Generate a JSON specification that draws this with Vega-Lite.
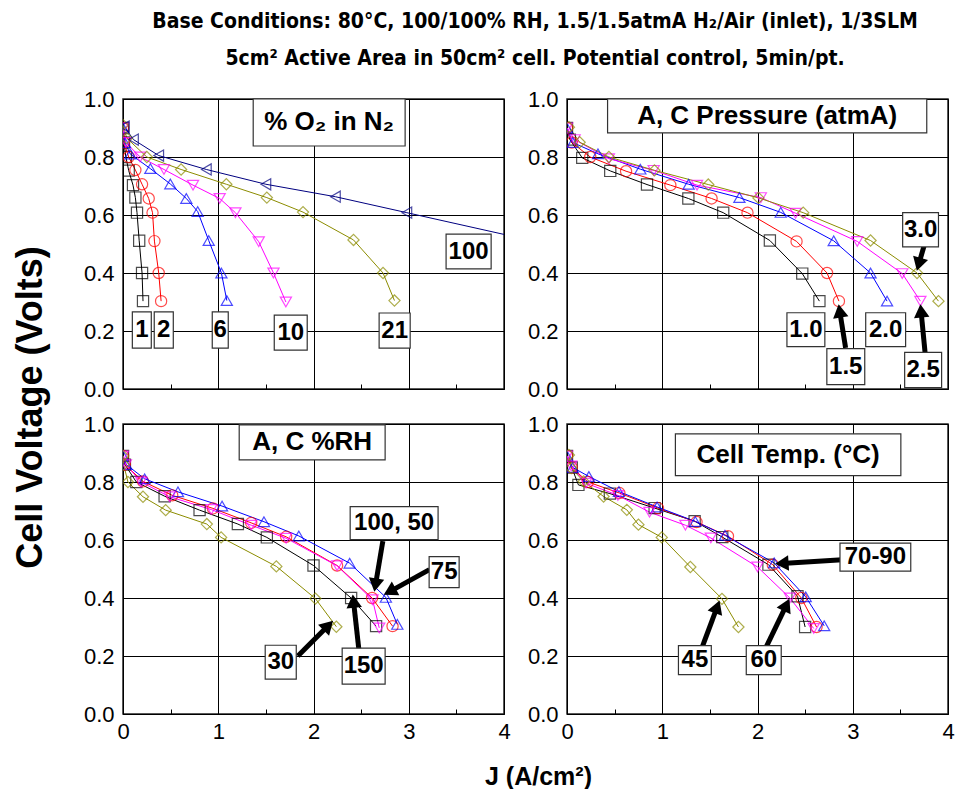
{
  "$schema": "https://vega.github.io/schema/vega-lite/v6.json",
  "autosize": {"type": "none"},
  "padding": {"left": 123, "top": 99, "right": 832, "bottom": 690},
  "background": "white",
  "title": {
    "text": ["Base Conditions:  80°C, 100/100% RH, 1.5/1.5atmA H₂/Air (inlet), 1/3SLM", "5cm² Active Area in 50cm² cell.  Potential control, 5min/pt."],
    "anchor": "middle",
    "font": "Liberation Sans Narrow, DejaVu Sans Condensed, sans-serif",
    "fontSize": 21,
    "fontWeight": "bold",
    "lineHeight": 37,
    "offset": 18,
    "dx": 52,
    "color": "#000"
  },
  "datasets": {
    "o2": [
      {"s":"1","J":0,"V":0.9},{"s":"1","J":0.01,"V":0.85},{"s":"1","J":0.03,"V":0.8},{"s":"1","J":0.06,"V":0.753},{"s":"1","J":0.105,"V":0.703},{"s":"1","J":0.13,"V":0.66},{"s":"1","J":0.147,"V":0.608},{"s":"1","J":0.17,"V":0.511},{"s":"1","J":0.2,"V":0.4},{"s":"1","J":0.21,"V":0.303},
      {"s":"2","J":0,"V":0.9},{"s":"2","J":0.01,"V":0.85},{"s":"2","J":0.06,"V":0.8},{"s":"2","J":0.13,"V":0.755},{"s":"2","J":0.2,"V":0.706},{"s":"2","J":0.27,"V":0.657},{"s":"2","J":0.31,"V":0.608},{"s":"2","J":0.33,"V":0.51},{"s":"2","J":0.375,"V":0.4},{"s":"2","J":0.4,"V":0.303},
      {"s":"6","J":0,"V":0.9},{"s":"6","J":0.02,"V":0.85},{"s":"6","J":0.077,"V":0.81},{"s":"6","J":0.287,"V":0.76},{"s":"6","J":0.497,"V":0.707},{"s":"6","J":0.665,"V":0.657},{"s":"6","J":0.784,"V":0.612},{"s":"6","J":0.9,"V":0.512},{"s":"6","J":1.033,"V":0.4},{"s":"6","J":1.09,"V":0.305},
      {"s":"10","J":0,"V":0.9},{"s":"10","J":0.03,"V":0.85},{"s":"10","J":0.18,"V":0.8},{"s":"10","J":0.43,"V":0.757},{"s":"10","J":0.735,"V":0.703},{"s":"10","J":1.015,"V":0.657},{"s":"10","J":1.18,"V":0.608},{"s":"10","J":1.425,"V":0.508},{"s":"10","J":1.58,"V":0.4},{"s":"10","J":1.71,"V":0.3},
      {"s":"21","J":0,"V":0.91},{"s":"21","J":0.04,"V":0.865},{"s":"21","J":0.25,"V":0.8},{"s":"21","J":0.61,"V":0.757},{"s":"21","J":1.085,"V":0.706},{"s":"21","J":1.51,"V":0.66},{"s":"21","J":1.89,"V":0.61},{"s":"21","J":2.42,"V":0.514},{"s":"21","J":2.73,"V":0.4},{"s":"21","J":2.85,"V":0.305},
      {"s":"100","J":0.014,"V":0.905},{"s":"100","J":0.11,"V":0.86},{"s":"100","J":0.375,"V":0.805},{"s":"100","J":0.875,"V":0.757},{"s":"100","J":1.5,"V":0.706},{"s":"100","J":2.23,"V":0.663},{"s":"100","J":2.98,"V":0.608},{"s":"100","J":4.45,"V":0.5}
    ],
    "pres": [
      {"s":"1.0","J":0,"V":0.9},{"s":"1.0","J":0.03,"V":0.86},{"s":"1.0","J":0.16,"V":0.797},{"s":"1.0","J":0.454,"V":0.752},{"s":"1.0","J":0.84,"V":0.705},{"s":"1.0","J":1.274,"V":0.657},{"s":"1.0","J":1.64,"V":0.608},{"s":"1.0","J":2.13,"V":0.512},{"s":"1.0","J":2.47,"V":0.398},{"s":"1.0","J":2.65,"V":0.303},
      {"s":"1.5","J":0,"V":0.9},{"s":"1.5","J":0.05,"V":0.85},{"s":"1.5","J":0.244,"V":0.8},{"s":"1.5","J":0.62,"V":0.751},{"s":"1.5","J":1.085,"V":0.703},{"s":"1.5","J":1.518,"V":0.657},{"s":"1.5","J":1.895,"V":0.608},{"s":"1.5","J":2.41,"V":0.509},{"s":"1.5","J":2.73,"V":0.4},{"s":"1.5","J":2.855,"V":0.303},
      {"s":"2.0","J":0,"V":0.9},{"s":"2.0","J":0.06,"V":0.85},{"s":"2.0","J":0.325,"V":0.811},{"s":"2.0","J":0.77,"V":0.758},{"s":"2.0","J":1.277,"V":0.706},{"s":"2.0","J":1.81,"V":0.66},{"s":"2.0","J":2.244,"V":0.609},{"s":"2.0","J":2.8,"V":0.511},{"s":"2.0","J":3.187,"V":0.4},{"s":"2.0","J":3.36,"V":0.303},
      {"s":"2.5","J":0,"V":0.9},{"s":"2.5","J":0.08,"V":0.86},{"s":"2.5","J":0.44,"V":0.794},{"s":"2.5","J":0.91,"V":0.754},{"s":"2.5","J":1.365,"V":0.703},{"s":"2.5","J":2.035,"V":0.66},{"s":"2.5","J":2.4,"V":0.606},{"s":"2.5","J":3.047,"V":0.509},{"s":"2.5","J":3.52,"V":0.398},{"s":"2.5","J":3.71,"V":0.303},
      {"s":"3.0","J":0.02,"V":0.903},{"s":"3.0","J":0.133,"V":0.851},{"s":"3.0","J":0.44,"V":0.8},{"s":"3.0","J":0.918,"V":0.754},{"s":"3.0","J":1.483,"V":0.705},{"s":"3.0","J":2.01,"V":0.659},{"s":"3.0","J":2.48,"V":0.608},{"s":"3.0","J":3.187,"V":0.512},{"s":"3.0","J":3.675,"V":0.4},{"s":"3.0","J":3.9,"V":0.303}
    ],
    "rh": [
      {"s":"150","J":0,"V":0.89},{"s":"150","J":0.02,"V":0.86},{"s":"150","J":0.14,"V":0.8},{"s":"150","J":0.437,"V":0.751},{"s":"150","J":0.804,"V":0.703},{"s":"150","J":1.206,"V":0.655},{"s":"150","J":1.51,"V":0.609},{"s":"150","J":2.0,"V":0.512},{"s":"150","J":2.395,"V":0.4},{"s":"150","J":2.657,"V":0.303},
      {"s":"100","J":0,"V":0.89},{"s":"100","J":0.02,"V":0.86},{"s":"100","J":0.21,"V":0.802},{"s":"100","J":0.517,"V":0.754},{"s":"100","J":0.944,"V":0.709},{"s":"100","J":1.346,"V":0.659},{"s":"100","J":1.713,"V":0.611},{"s":"100","J":2.248,"V":0.512},{"s":"100","J":2.615,"V":0.4},{"s":"100","J":2.83,"V":0.303},
      {"s":"75","J":0,"V":0.89},{"s":"75","J":0.035,"V":0.86},{"s":"75","J":0.227,"V":0.811},{"s":"75","J":0.577,"V":0.766},{"s":"75","J":1.04,"V":0.717},{"s":"75","J":1.48,"V":0.663},{"s":"75","J":1.846,"V":0.614},{"s":"75","J":2.38,"V":0.52},{"s":"75","J":2.76,"V":0.402},{"s":"75","J":2.88,"V":0.309},
      {"s":"50","J":0,"V":0.89},{"s":"50","J":0.03,"V":0.86},{"s":"50","J":0.19,"V":0.8},{"s":"50","J":0.49,"V":0.749},{"s":"50","J":0.927,"V":0.705},{"s":"50","J":1.346,"V":0.651},{"s":"50","J":1.713,"V":0.606},{"s":"50","J":2.248,"V":0.511},{"s":"50","J":2.62,"V":0.394},{"s":"50","J":2.69,"V":0.297},
      {"s":"30","J":0,"V":0.89},{"s":"30","J":0.007,"V":0.86},{"s":"30","J":0.052,"V":0.8},{"s":"30","J":0.21,"V":0.749},{"s":"30","J":0.448,"V":0.703},{"s":"30","J":0.88,"V":0.655},{"s":"30","J":1.03,"V":0.609},{"s":"30","J":1.61,"V":0.509},{"s":"30","J":2.02,"V":0.398},{"s":"30","J":2.24,"V":0.301}
    ],
    "temp": [
      {"s":"70","J":0,"V":0.89},{"s":"70","J":0.05,"V":0.85},{"s":"70","J":0.12,"V":0.79},{"s":"70","J":0.45,"V":0.76},{"s":"70","J":0.92,"V":0.71},{"s":"70","J":1.34,"V":0.665},{"s":"70","J":1.63,"V":0.61},{"s":"70","J":2.115,"V":0.515},{"s":"70","J":2.42,"V":0.406},{"s":"70","J":2.5,"V":0.3},
      {"s":"80","J":0,"V":0.89},{"s":"80","J":0.05,"V":0.85},{"s":"80","J":0.22,"V":0.8},{"s":"80","J":0.55,"V":0.762},{"s":"80","J":0.955,"V":0.71},{"s":"80","J":1.36,"V":0.662},{"s":"80","J":1.69,"V":0.613},{"s":"80","J":2.16,"V":0.515},{"s":"80","J":2.46,"V":0.4},{"s":"80","J":2.62,"V":0.3},
      {"s":"90","J":0,"V":0.89},{"s":"90","J":0.06,"V":0.85},{"s":"90","J":0.23,"V":0.819},{"s":"90","J":0.545,"V":0.767},{"s":"90","J":0.946,"V":0.714},{"s":"90","J":1.347,"V":0.664},{"s":"90","J":1.658,"V":0.616},{"s":"90","J":2.175,"V":0.521},{"s":"90","J":2.506,"V":0.404},{"s":"90","J":2.7,"V":0.304},
      {"s":"60","J":0,"V":0.89},{"s":"60","J":0.045,"V":0.855},{"s":"60","J":0.2,"V":0.796},{"s":"60","J":0.534,"V":0.754},{"s":"60","J":0.866,"V":0.696},{"s":"60","J":1.243,"V":0.651},{"s":"60","J":1.51,"V":0.607},{"s":"60","J":2.0,"V":0.507},{"s":"60","J":2.34,"V":0.4},{"s":"60","J":2.59,"V":0.295},
      {"s":"45","J":0.02,"V":0.893},{"s":"45","J":0.045,"V":0.848},{"s":"45","J":0.175,"V":0.802},{"s":"45","J":0.384,"V":0.75},{"s":"45","J":0.628,"V":0.704},{"s":"45","J":0.75,"V":0.653},{"s":"45","J":0.995,"V":0.609},{"s":"45","J":1.295,"V":0.507},{"s":"45","J":1.627,"V":0.397},{"s":"45","J":1.8,"V":0.3}
    ],
    "boxes": [
      {"p":"o2","kind":"title","label":"% O₂  in N₂","x1":1.367,"x2":2.962,"y1":0.838,"y2":1.0},
      {"p":"o2","kind":"tag","label":"1","x1":0.098,"x2":0.297,"y1":0.141,"y2":0.266},
      {"p":"o2","kind":"tag","label":"2","x1":0.328,"x2":0.528,"y1":0.141,"y2":0.266},
      {"p":"o2","kind":"tag","label":"6","x1":0.937,"x2":1.105,"y1":0.141,"y2":0.266},
      {"p":"o2","kind":"tag","label":"10","x1":1.588,"x2":1.934,"y1":0.134,"y2":0.255},
      {"p":"o2","kind":"tag","label":"21","x1":2.689,"x2":3.015,"y1":0.141,"y2":0.262},
      {"p":"o2","kind":"tag","label":"100","x1":3.392,"x2":3.865,"y1":0.414,"y2":0.534},
      {"p":"pres","kind":"title","label":"A, C Pressure (atmA)","x1":0.426,"x2":3.777,"y1":0.883,"y2":1.0},
      {"p":"pres","kind":"tag","label":"1.0","x1":2.309,"x2":2.707,"y1":0.146,"y2":0.263},
      {"p":"pres","kind":"tag","label":"1.5","x1":2.728,"x2":3.126,"y1":0.015,"y2":0.139},
      {"p":"pres","kind":"tag","label":"2.0","x1":3.136,"x2":3.555,"y1":0.146,"y2":0.263},
      {"p":"pres","kind":"tag","label":"2.5","x1":3.545,"x2":3.933,"y1":0.005,"y2":0.126},
      {"p":"pres","kind":"tag","label":"3.0","x1":3.524,"x2":3.9,"y1":0.49,"y2":0.608},
      {"p":"rh","kind":"title","label":"A, C %RH","x1":1.22,"x2":2.752,"y1":0.876,"y2":0.997},
      {"p":"rh","kind":"tag","label":"100, 50","x1":2.385,"x2":3.308,"y1":0.601,"y2":0.715},
      {"p":"rh","kind":"tag","label":"75","x1":3.214,"x2":3.529,"y1":0.436,"y2":0.543},
      {"p":"rh","kind":"tag","label":"150","x1":2.301,"x2":2.752,"y1":0.103,"y2":0.227},
      {"p":"rh","kind":"tag","label":"30","x1":1.493,"x2":1.819,"y1":0.12,"y2":0.237},
      {"p":"temp","kind":"title","label":"Cell Temp. (°C)","x1":1.138,"x2":3.505,"y1":0.822,"y2":0.966},
      {"p":"temp","kind":"tag","label":"70-90","x1":2.866,"x2":3.609,"y1":0.493,"y2":0.589},
      {"p":"temp","kind":"tag","label":"45","x1":1.17,"x2":1.515,"y1":0.136,"y2":0.236},
      {"p":"temp","kind":"tag","label":"60","x1":1.882,"x2":2.249,"y1":0.136,"y2":0.236}
    ],
    "arrows": [
      {"p":"pres","x1":2.925,"y1":0.142,"x2":2.853,"y2":0.29},
      {"p":"pres","x1":3.763,"y1":0.113,"x2":3.711,"y2":0.29},
      {"p":"pres","x1":3.798,"y1":0.549,"x2":3.675,"y2":0.41},
      {"p":"rh","x1":2.728,"y1":0.596,"x2":2.64,"y2":0.424},
      {"p":"rh","x1":3.217,"y1":0.498,"x2":2.745,"y2":0.412},
      {"p":"rh","x1":2.476,"y1":0.223,"x2":2.413,"y2":0.41},
      {"p":"rh","x1":1.836,"y1":0.2,"x2":2.2,"y2":0.32},
      {"p":"temp","x1":2.89,"y1":0.532,"x2":2.193,"y2":0.518},
      {"p":"temp","x1":1.424,"y1":0.235,"x2":1.599,"y2":0.389},
      {"p":"temp","x1":2.088,"y1":0.229,"x2":2.332,"y2":0.395}
    ]
  },
  "columns": 2,
  "spacing": {"row": 35, "column": 63},
  "bounds": "flush",
  "resolve": {"scale": {"color": "independent", "shape": "independent"}},
  "concat": [
    {
      "width": 381, "height": 290,
      "layer": [
        {"data": {"name": "o2"}, "mark": {"type": "line", "strokeWidth": 1, "clip": true},
         "encoding": {
           "x": {"field": "J", "type": "quantitative", "scale": {"domain": [0, 4], "nice": false},
                 "axis": {"values": [0,0.5,1,1.5,2,2.5,3,3.5,4], "title": null, "labels": false, "domain": false, "tickSize": -5,
                          "gridOpacity": {"condition": {"test": "round(datum.value*2)%2==0", "value": 1}, "value": 0}}},
           "y": {"field": "V", "type": "quantitative", "scale": {"domain": [0, 1], "nice": false},
                 "axis": {"values": [0,0.1,0.2,0.3,0.4,0.5,0.6,0.7,0.8,0.9,1], "domain": false, "tickSize": -5,
                          "gridOpacity": {"condition": {"test": "round(datum.value*10)%2==0", "value": 1}, "value": 0},
                          "labelExpr": "round(datum.value*10)%2==0 ? format(datum.value,'.1f') : ''",
                          "labelFontSize": 22, "labelPadding": 14, "labelOverlap": false, "labelFlush": false,
                          "title": "Cell Voltage (Volts)", "titleFontSize": 36, "titleFontWeight": "bold", "titleFont": "Liberation Sans",
                          "titleX": -93, "titleY": 308, "titleAngle": -90, "titleAlign": "center", "titleBaseline": "middle", "titleColor": "#000"}},
           "color": {"field": "s", "type": "nominal", "scale": {"domain": ["1","2","6","10","21","100"], "range": ["#000000","#ff0000","#0000ff","#ff00ff","#8c8c00","#000080"]}, "legend": null}
         }},
        {"data": {"name": "o2"}, "mark": {"type": "point", "filled": false, "size": 125, "strokeWidth": 1.2, "clip": true},
         "encoding": {
           "x": {"field": "J", "type": "quantitative"},
           "y": {"field": "V", "type": "quantitative"},
           "color": {"field": "s", "type": "nominal", "scale": {"domain": ["1","2","6","10","21","100"], "range": ["#000000","#ff0000","#0000ff","#ff00ff","#8c8c00","#000080"]}, "legend": null},
           "shape": {"field": "s", "type": "nominal", "scale": {"domain": ["1","2","6","10","21","100"], "range": ["square","circle","triangle-up","triangle-down","diamond","triangle-left"]}, "legend": null}
         }},
        {"data": {"name": "boxes"}, "transform": [{"filter": "datum.p=='o2'"}],
         "mark": {"type": "rect", "fill": "#ffffff", "stroke": "#333333", "strokeWidth": 1.2},
         "encoding": {"x": {"field": "x1", "type": "quantitative"}, "x2": {"field": "x2"}, "y": {"field": "y1", "type": "quantitative"}, "y2": {"field": "y2"}}},
        {"data": {"name": "boxes"}, "transform": [{"filter": "datum.p=='o2'"}, {"calculate": "(datum.x1+datum.x2)/2", "as": "xm"}, {"calculate": "(datum.y1+datum.y2)/2", "as": "ym"}],
         "mark": {"type": "text", "font": "Liberation Sans", "fontWeight": "bold", "color": "#000", "align": "center", "baseline": "middle"},
         "encoding": {"x": {"field": "xm", "type": "quantitative"}, "y": {"field": "ym", "type": "quantitative"}, "text": {"field": "label"},
                      "size": {"condition": {"test": "datum.kind=='title'", "value": 26}, "value": 24}}}
      ]
    },
    {
      "width": 381, "height": 290,
      "layer": [
        {"data": {"name": "pres"}, "mark": {"type": "line", "strokeWidth": 1, "clip": true},
         "encoding": {
           "x": {"field": "J", "type": "quantitative", "scale": {"domain": [0, 4], "nice": false},
                 "axis": {"values": [0,0.5,1,1.5,2,2.5,3,3.5,4], "title": null, "labels": false, "domain": false, "tickSize": -5,
                          "gridOpacity": {"condition": {"test": "round(datum.value*2)%2==0", "value": 1}, "value": 0}}},
           "y": {"field": "V", "type": "quantitative", "scale": {"domain": [0, 1], "nice": false},
                 "axis": {"values": [0,0.1,0.2,0.3,0.4,0.5,0.6,0.7,0.8,0.9,1], "domain": false, "tickSize": -5, "title": null,
                          "gridOpacity": {"condition": {"test": "round(datum.value*10)%2==0", "value": 1}, "value": 0},
                          "labelExpr": "round(datum.value*10)%2==0 ? format(datum.value,'.1f') : ''",
                          "labelFontSize": 22, "labelPadding": 14, "labelOverlap": false, "labelFlush": false}},
           "color": {"field": "s", "type": "nominal", "scale": {"domain": ["1.0","1.5","2.0","2.5","3.0"], "range": ["#000000","#ff0000","#0000ff","#ff00ff","#8c8c00"]}, "legend": null}
         }},
        {"data": {"name": "pres"}, "mark": {"type": "point", "filled": false, "size": 125, "strokeWidth": 1.2, "clip": true},
         "encoding": {
           "x": {"field": "J", "type": "quantitative"},
           "y": {"field": "V", "type": "quantitative"},
           "color": {"field": "s", "type": "nominal", "scale": {"domain": ["1.0","1.5","2.0","2.5","3.0"], "range": ["#000000","#ff0000","#0000ff","#ff00ff","#8c8c00"]}, "legend": null},
           "shape": {"field": "s", "type": "nominal", "scale": {"domain": ["1.0","1.5","2.0","2.5","3.0"], "range": ["square","circle","triangle-up","triangle-down","diamond"]}, "legend": null}
         }},
        {"data": {"name": "arrows"}, "transform": [{"filter": "datum.p=='pres'"},
           {"calculate": "(datum.x2-datum.x1)*95.3", "as": "dxp"}, {"calculate": "(datum.y2-datum.y1)*290", "as": "dyp"},
           {"calculate": "sqrt(datum.dxp*datum.dxp+datum.dyp*datum.dyp)", "as": "L"},
           {"calculate": "datum.x2-datum.dxp/datum.L*6/95.3", "as": "hx"}, {"calculate": "datum.y2-datum.dyp/datum.L*6/290", "as": "hy"}],
         "mark": {"type": "rule", "strokeWidth": 5, "color": "#000"},
         "encoding": {"x": {"field": "x1", "type": "quantitative"}, "x2": {"field": "hx"}, "y": {"field": "y1", "type": "quantitative"}, "y2": {"field": "hy"}}},
        {"data": {"name": "arrows"}, "transform": [{"filter": "datum.p=='pres'"},
           {"calculate": "(datum.x2-datum.x1)*95.3", "as": "dxp"}, {"calculate": "(datum.y2-datum.y1)*290", "as": "dyp"},
           {"calculate": "sqrt(datum.dxp*datum.dxp+datum.dyp*datum.dyp)", "as": "L"},
           {"calculate": "datum.x2-datum.dxp/datum.L*6/95.3", "as": "hx"}, {"calculate": "datum.y2-datum.dyp/datum.L*6/290", "as": "hy"},
           {"calculate": "atan2(datum.dxp, datum.dyp)*180/PI", "as": "ang"}],
         "mark": {"type": "point", "shape": "triangle-up", "filled": true, "size": 240, "color": "#000", "opacity": 1},
         "encoding": {"x": {"field": "hx", "type": "quantitative"}, "y": {"field": "hy", "type": "quantitative"}, "angle": {"field": "ang", "type": "quantitative", "scale": null}}},
        {"data": {"name": "boxes"}, "transform": [{"filter": "datum.p=='pres'"}],
         "mark": {"type": "rect", "fill": "#ffffff", "stroke": "#333333", "strokeWidth": 1.2},
         "encoding": {"x": {"field": "x1", "type": "quantitative"}, "x2": {"field": "x2"}, "y": {"field": "y1", "type": "quantitative"}, "y2": {"field": "y2"}}},
        {"data": {"name": "boxes"}, "transform": [{"filter": "datum.p=='pres'"}, {"calculate": "(datum.x1+datum.x2)/2", "as": "xm"}, {"calculate": "(datum.y1+datum.y2)/2", "as": "ym"}],
         "mark": {"type": "text", "font": "Liberation Sans", "fontWeight": "bold", "color": "#000", "align": "center", "baseline": "middle"},
         "encoding": {"x": {"field": "xm", "type": "quantitative"}, "y": {"field": "ym", "type": "quantitative"}, "text": {"field": "label"},
                      "size": {"condition": {"test": "datum.kind=='title'", "value": 26}, "value": 24}}}
      ]
    },
    {
      "width": 381, "height": 290,
      "layer": [
        {"data": {"name": "rh"}, "mark": {"type": "line", "strokeWidth": 1, "clip": true},
         "encoding": {
           "x": {"field": "J", "type": "quantitative", "scale": {"domain": [0, 4], "nice": false},
                 "axis": {"values": [0,0.5,1,1.5,2,2.5,3,3.5,4], "domain": false, "tickSize": -5,
                          "gridOpacity": {"condition": {"test": "round(datum.value*2)%2==0", "value": 1}, "value": 0},
                          "labelExpr": "round(datum.value*2)%2==0 ? format(datum.value,'d') : ''",
                          "labelFontSize": 22, "labelPadding": 12, "labelOverlap": false, "labelFlush": false,
                          "title": "J (A/cm²)", "titleFontSize": 25, "titleFontWeight": "bold", "titleFont": "Liberation Sans",
                          "titleX": 415, "titleY": 62, "titleAlign": "center", "titleBaseline": "middle", "titleColor": "#000"}},
           "y": {"field": "V", "type": "quantitative", "scale": {"domain": [0, 1], "nice": false},
                 "axis": {"values": [0,0.1,0.2,0.3,0.4,0.5,0.6,0.7,0.8,0.9,1], "domain": false, "tickSize": -5, "title": null,
                          "gridOpacity": {"condition": {"test": "round(datum.value*10)%2==0", "value": 1}, "value": 0},
                          "labelExpr": "round(datum.value*10)%2==0 ? format(datum.value,'.1f') : ''",
                          "labelFontSize": 22, "labelPadding": 14, "labelOverlap": false, "labelFlush": false}},
           "color": {"field": "s", "type": "nominal", "scale": {"domain": ["150","100","75","50","30"], "range": ["#000000","#ff0000","#0000ff","#ff00ff","#8c8c00"]}, "legend": null}
         }},
        {"data": {"name": "rh"}, "mark": {"type": "point", "filled": false, "size": 125, "strokeWidth": 1.2, "clip": true},
         "encoding": {
           "x": {"field": "J", "type": "quantitative"},
           "y": {"field": "V", "type": "quantitative"},
           "color": {"field": "s", "type": "nominal", "scale": {"domain": ["150","100","75","50","30"], "range": ["#000000","#ff0000","#0000ff","#ff00ff","#8c8c00"]}, "legend": null},
           "shape": {"field": "s", "type": "nominal", "scale": {"domain": ["150","100","75","50","30"], "range": ["square","circle","triangle-up","triangle-down","diamond"]}, "legend": null}
         }},
        {"data": {"name": "arrows"}, "transform": [{"filter": "datum.p=='rh'"},
           {"calculate": "(datum.x2-datum.x1)*95.3", "as": "dxp"}, {"calculate": "(datum.y2-datum.y1)*290", "as": "dyp"},
           {"calculate": "sqrt(datum.dxp*datum.dxp+datum.dyp*datum.dyp)", "as": "L"},
           {"calculate": "datum.x2-datum.dxp/datum.L*6/95.3", "as": "hx"}, {"calculate": "datum.y2-datum.dyp/datum.L*6/290", "as": "hy"}],
         "mark": {"type": "rule", "strokeWidth": 5, "color": "#000"},
         "encoding": {"x": {"field": "x1", "type": "quantitative"}, "x2": {"field": "hx"}, "y": {"field": "y1", "type": "quantitative"}, "y2": {"field": "hy"}}},
        {"data": {"name": "arrows"}, "transform": [{"filter": "datum.p=='rh'"},
           {"calculate": "(datum.x2-datum.x1)*95.3", "as": "dxp"}, {"calculate": "(datum.y2-datum.y1)*290", "as": "dyp"},
           {"calculate": "sqrt(datum.dxp*datum.dxp+datum.dyp*datum.dyp)", "as": "L"},
           {"calculate": "datum.x2-datum.dxp/datum.L*6/95.3", "as": "hx"}, {"calculate": "datum.y2-datum.dyp/datum.L*6/290", "as": "hy"},
           {"calculate": "atan2(datum.dxp, datum.dyp)*180/PI", "as": "ang"}],
         "mark": {"type": "point", "shape": "triangle-up", "filled": true, "size": 240, "color": "#000", "opacity": 1},
         "encoding": {"x": {"field": "hx", "type": "quantitative"}, "y": {"field": "hy", "type": "quantitative"}, "angle": {"field": "ang", "type": "quantitative", "scale": null}}},
        {"data": {"name": "boxes"}, "transform": [{"filter": "datum.p=='rh'"}],
         "mark": {"type": "rect", "fill": "#ffffff", "stroke": "#333333", "strokeWidth": 1.2},
         "encoding": {"x": {"field": "x1", "type": "quantitative"}, "x2": {"field": "x2"}, "y": {"field": "y1", "type": "quantitative"}, "y2": {"field": "y2"}}},
        {"data": {"name": "boxes"}, "transform": [{"filter": "datum.p=='rh'"}, {"calculate": "(datum.x1+datum.x2)/2", "as": "xm"}, {"calculate": "(datum.y1+datum.y2)/2", "as": "ym"}],
         "mark": {"type": "text", "font": "Liberation Sans", "fontWeight": "bold", "color": "#000", "align": "center", "baseline": "middle"},
         "encoding": {"x": {"field": "xm", "type": "quantitative"}, "y": {"field": "ym", "type": "quantitative"}, "text": {"field": "label"},
                      "size": {"condition": {"test": "datum.kind=='title'", "value": 26}, "value": 24}}}
      ]
    },
    {
      "width": 381, "height": 290,
      "layer": [
        {"data": {"name": "temp"}, "mark": {"type": "line", "strokeWidth": 1, "clip": true},
         "encoding": {
           "x": {"field": "J", "type": "quantitative", "scale": {"domain": [0, 4], "nice": false},
                 "axis": {"values": [0,0.5,1,1.5,2,2.5,3,3.5,4], "title": null, "domain": false, "tickSize": -5,
                          "gridOpacity": {"condition": {"test": "round(datum.value*2)%2==0", "value": 1}, "value": 0},
                          "labelExpr": "round(datum.value*2)%2==0 ? format(datum.value,'d') : ''",
                          "labelFontSize": 22, "labelPadding": 12, "labelOverlap": false, "labelFlush": false}},
           "y": {"field": "V", "type": "quantitative", "scale": {"domain": [0, 1], "nice": false},
                 "axis": {"values": [0,0.1,0.2,0.3,0.4,0.5,0.6,0.7,0.8,0.9,1], "domain": false, "tickSize": -5, "title": null,
                          "gridOpacity": {"condition": {"test": "round(datum.value*10)%2==0", "value": 1}, "value": 0},
                          "labelExpr": "round(datum.value*10)%2==0 ? format(datum.value,'.1f') : ''",
                          "labelFontSize": 22, "labelPadding": 14, "labelOverlap": false, "labelFlush": false}},
           "color": {"field": "s", "type": "nominal", "scale": {"domain": ["70","80","90","60","45"], "range": ["#000000","#ff0000","#0000ff","#ff00ff","#8c8c00"]}, "legend": null}
         }},
        {"data": {"name": "temp"}, "mark": {"type": "point", "filled": false, "size": 125, "strokeWidth": 1.2, "clip": true},
         "encoding": {
           "x": {"field": "J", "type": "quantitative"},
           "y": {"field": "V", "type": "quantitative"},
           "color": {"field": "s", "type": "nominal", "scale": {"domain": ["70","80","90","60","45"], "range": ["#000000","#ff0000","#0000ff","#ff00ff","#8c8c00"]}, "legend": null},
           "shape": {"field": "s", "type": "nominal", "scale": {"domain": ["70","80","90","60","45"], "range": ["square","circle","triangle-up","triangle-down","diamond"]}, "legend": null}
         }},
        {"data": {"name": "arrows"}, "transform": [{"filter": "datum.p=='temp'"},
           {"calculate": "(datum.x2-datum.x1)*95.3", "as": "dxp"}, {"calculate": "(datum.y2-datum.y1)*290", "as": "dyp"},
           {"calculate": "sqrt(datum.dxp*datum.dxp+datum.dyp*datum.dyp)", "as": "L"},
           {"calculate": "datum.x2-datum.dxp/datum.L*6/95.3", "as": "hx"}, {"calculate": "datum.y2-datum.dyp/datum.L*6/290", "as": "hy"}],
         "mark": {"type": "rule", "strokeWidth": 5, "color": "#000"},
         "encoding": {"x": {"field": "x1", "type": "quantitative"}, "x2": {"field": "hx"}, "y": {"field": "y1", "type": "quantitative"}, "y2": {"field": "hy"}}},
        {"data": {"name": "arrows"}, "transform": [{"filter": "datum.p=='temp'"},
           {"calculate": "(datum.x2-datum.x1)*95.3", "as": "dxp"}, {"calculate": "(datum.y2-datum.y1)*290", "as": "dyp"},
           {"calculate": "sqrt(datum.dxp*datum.dxp+datum.dyp*datum.dyp)", "as": "L"},
           {"calculate": "datum.x2-datum.dxp/datum.L*6/95.3", "as": "hx"}, {"calculate": "datum.y2-datum.dyp/datum.L*6/290", "as": "hy"},
           {"calculate": "atan2(datum.dxp, datum.dyp)*180/PI", "as": "ang"}],
         "mark": {"type": "point", "shape": "triangle-up", "filled": true, "size": 240, "color": "#000", "opacity": 1},
         "encoding": {"x": {"field": "hx", "type": "quantitative"}, "y": {"field": "hy", "type": "quantitative"}, "angle": {"field": "ang", "type": "quantitative", "scale": null}}},
        {"data": {"name": "boxes"}, "transform": [{"filter": "datum.p=='temp'"}],
         "mark": {"type": "rect", "fill": "#ffffff", "stroke": "#333333", "strokeWidth": 1.2},
         "encoding": {"x": {"field": "x1", "type": "quantitative"}, "x2": {"field": "x2"}, "y": {"field": "y1", "type": "quantitative"}, "y2": {"field": "y2"}}},
        {"data": {"name": "boxes"}, "transform": [{"filter": "datum.p=='temp'"}, {"calculate": "(datum.x1+datum.x2)/2", "as": "xm"}, {"calculate": "(datum.y1+datum.y2)/2", "as": "ym"}],
         "mark": {"type": "text", "font": "Liberation Sans", "fontWeight": "bold", "color": "#000", "align": "center", "baseline": "middle"},
         "encoding": {"x": {"field": "xm", "type": "quantitative"}, "y": {"field": "ym", "type": "quantitative"}, "text": {"field": "label"},
                      "size": {"condition": {"test": "datum.kind=='title'", "value": 26}, "value": 24}}}
      ]
    }
  ],
  "config": {
    "font": "Liberation Sans",
    "view": {"stroke": "#222222", "strokeWidth": 1.5},
    "axis": {"labelFont": "Liberation Sans", "labelColor": "#000", "gridColor": "#000", "gridWidth": 1, "tickColor": "#000", "tickWidth": 1}
  }
}
